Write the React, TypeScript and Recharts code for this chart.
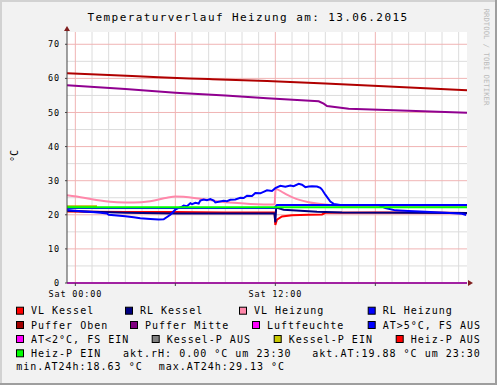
import React from 'react';
import { LineChart, Line, XAxis, YAxis, CartesianGrid, ReferenceDot } from 'recharts';

// ---- data (hours relative to Sat 00:00, values in °C) ----
const vlKesselH = [-0.5, 1, 3, 6, 9, 11.95, 12.0, 12.1, 12.4, 13, 14, 14.8, 15.0, 18, 21, 23.5];
const vlKesselV = [21.0, 20.9, 20.8, 20.8, 20.7, 20.7, 17.0, 18.6, 19.5, 19.9, 20.0, 20.1, 20.6, 20.7, 20.7, 20.5];

const rlKesselH = [-0.5, 1, 3, 6, 9, 11.95, 12.0, 12.05, 12.5, 13.5, 14.5, 16, 20, 23.5];
const rlKesselV = [21.2, 20.9, 20.6, 20.4, 20.4, 20.4, 17.8, 22.1, 21.5, 21.2, 20.9, 20.7, 20.6, 20.5];

const vlHeizungH = [-0.5, 0.5, 1.5, 2.5, 3.5, 4.5, 5.5, 6.0, 6.5, 7.5, 8.5, 9.5, 10.5, 11.95, 12.02, 12.5, 13.0, 13.5, 14.0, 14.5, 15.0, 16.0, 17.0, 23.5];
const vlHeizungV = [25.7, 25.0, 24.2, 23.7, 23.6, 24.0, 25.0, 25.4, 25.3, 24.7, 24.0, 23.5, 23.2, 23.0, 27.6, 26.4, 25.2, 24.3, 23.7, 23.3, 23.0, 22.6, 22.4, 22.3];

const rlHeizungH = [-0.5, 11.95, 12.1, 23.5];
const rlHeizungV = [22.0, 22.0, 22.9, 22.9];

const pufferObenH = [-0.5, 2, 5, 8, 11.5, 15, 18.5, 21, 23.5];
const pufferObenV = [61.5, 61.0, 60.3, 59.8, 59.2, 58.5, 57.7, 57.1, 56.5];

const pufferMitteH = [-0.5, 3, 6, 9, 11.5, 14.6, 14.9, 15.1, 16.4, 20, 23.5];
const pufferMitteV = [58.0, 56.9, 55.8, 55.0, 54.2, 53.3, 52.6, 51.9, 51.1, 50.5, 49.9];

const luftfeuchteH = [-0.5, 23.5];
const luftfeuchteV = [0, 0];

const aussenH = [-0.5, 0, 0.5, 1, 1.5, 1.9, 2.0, 2.5, 3, 3.5, 3.9, 4.5, 5.0, 5.3, 5.7, 6.0, 6.2, 6.4, 6.5, 6.7, 6.9, 7.0, 7.2, 7.4, 7.5, 7.7, 7.9, 8.1, 8.3, 8.4, 8.6, 8.9, 9.1, 9.3, 9.6, 9.9, 10.1, 10.3, 10.6, 10.8, 11.1, 11.5, 11.8, 12.0, 12.3, 12.6, 12.9, 13.1, 13.4, 13.6, 13.8, 14.0, 14.2, 14.5, 14.7, 14.8, 15.0, 15.3, 15.5, 15.9, 17, 18.2, 18.4, 18.6, 19.2, 20.0, 21.0, 22.2, 23.2, 23.45];
const aussenV = [21.4, 21.2, 21.0, 20.8, 20.6, 20.4, 20.0, 19.8, 19.6, 19.3, 19.0, 18.8, 18.6, 18.7, 20.0, 21.5, 22.0, 22.4, 22.7, 22.5, 23.4, 23.1, 23.5, 23.3, 24.2, 24.5, 24.3, 24.6, 24.2, 23.6, 23.8, 24.1, 24.0, 24.4, 24.5, 25.0, 24.9, 25.6, 25.5, 26.4, 26.3, 27.2, 27.0, 27.8, 28.5, 28.2, 28.6, 28.4, 29.1, 28.8, 28.1, 28.3, 28.4, 28.3, 27.9, 27.4, 25.9, 23.9, 23.2, 22.9, 22.9, 22.9, 22.4, 22.0, 21.3, 21.1, 20.9, 20.6, 20.3, 19.9];

const kesselPEinH = [-0.5, 1.3];
const kesselPEinV = [22.5, 22.5];

const heizPEinH = [-0.5, 23.5];
const heizPEinV = [22.2, 22.2];

const yTicks = [0, 10, 20, 30, 40, 50, 60, 70];
const yMinor = [5, 15, 25, 35, 45, 55, 65];
const xMajor = [0, 6, 12, 18];
const xMinor = [1, 2, 3, 4, 5, 7, 8, 9, 10, 11, 13, 14, 15, 16, 17, 19, 20, 21, 22, 23];
const xLabels: Record<number, string> = { 0: 'Sat 00:00', 12: 'Sat 12:00' };

const title = 'Temperaturverlauf Heizung am: 13.06.2015';
const legendRows = [
  [['VL Kessel', '#FF0000', 31], ['RL Kessel', '#000080', 140], ['VL Heizung', '#FF88AA', 254], ['RL Heizung', '#0000FF', 382.7]],
  [['Puffer Oben', '#A00000', 31], ['Puffer Mitte', '#800080', 145], ['Luftfeuchte', '#FF00FF', 267], ['AT>5°C, FS AUS', '#0000FF', 382.7]],
  [['AT<2°C, FS EIN', '#FF00FF', 31], ['Kessel-P AUS', '#808080', 166.7], ['Kessel-P EIN', '#C8C800', 288.7], ['Heiz-P AUS', '#FF0000', 410.7]],
  [['Heiz-P EIN', '#00FF00', 31]],
];
const legendRowY = [310.7, 325, 339, 353.3, 366.7];
const infoTexts: [string, number, number][] = [
  ['akt.rH: 0.00 °C um 23:30', 123, 3],
  ['akt.AT:19.88 °C um 23:30', 312.3, 3],
  ['min.AT24h:18.63 °C', 16.3, 4],
  ['max.AT24h:29.13 °C', 158.7, 4],
];

const mk = (h: number[], v: number[]) => h.map((x, i) => ({ h: x, v: v[i] }));

const series = [
  { key: 'vlk', color: '#FF0000', data: mk(vlKesselH, vlKesselV), type: 'linear' },
  { key: 'rlk', color: '#000080', data: mk(rlKesselH, rlKesselV), type: 'linear' },
  { key: 'vlh', color: '#FF88AA', data: mk(vlHeizungH, vlHeizungV), type: 'monotone' },
  { key: 'rlh', color: '#0000FF', data: mk(rlHeizungH, rlHeizungV), type: 'linear' },
  { key: 'po', color: '#B00000', data: mk(pufferObenH, pufferObenV), type: 'monotone' },
  { key: 'pm', color: '#900090', data: mk(pufferMitteH, pufferMitteV), type: 'linear' },
  { key: 'lf', color: '#FF00FF', data: mk(luftfeuchteH, luftfeuchteV), type: 'linear' },
  { key: 'at', color: '#0000FF', data: mk(aussenH, aussenV), type: 'linear' },
  { key: 'kpe', color: '#B4B400', data: mk(kesselPEinH, kesselPEinV), type: 'linear' },
  { key: 'hpe', color: '#00FF00', data: mk(heizPEinH, heizPEinV), type: 'linear' },
];

const FONT = '"DejaVu Sans Mono", monospace';
const ARROW = '#801F1F';

const UpArrow = (p: any) => (
  <g>
    <line x1={p.cx} y1={p.cy} x2={p.cx} y2={p.cy - 4} stroke="#333" strokeWidth={1} />
    <polygon points={`${p.cx - 3},${p.cy - 1} ${p.cx + 3},${p.cy - 1} ${p.cx},${p.cy - 6}`} fill={ARROW} />
  </g>
);
const RightArrow = (p: any) => (
  <polygon points={`${p.cx + 1},${p.cy - 3} ${p.cx + 1},${p.cy + 3} ${p.cx + 6},${p.cy}`} fill={ARROW} />
);

export default function App() {
  return (
    <div style={{ position: 'absolute', left: 0, top: 0, width: 497, height: 385, background: '#F2F2F2' }}>
      <LineChart width={497} height={385} margin={{ top: 32, right: 30, bottom: 82, left: 27 }}>
        <CartesianGrid
          fill="#FFFFFF"
          stroke="#DCDCDC"
          strokeWidth={1}
          horizontalValues={yMinor}
          verticalValues={xMinor}
        />
        <CartesianGrid
          stroke="#F0B4B4"
          strokeWidth={1}
          horizontalValues={yTicks}
          verticalValues={xMajor}
        />
        <XAxis
          type="number"
          dataKey="h"
          domain={[-0.5, 23.5]}
          ticks={xMajor}
          interval={0}
          height={20}
          tickSize={3}
          tickMargin={5}
          tickFormatter={(v: number) => xLabels[v] ?? ''}
          axisLine={{ stroke: '#444' }}
          tickLine={{ stroke: '#444' }}
          tick={{ fontFamily: FONT, fontSize: 8.5, fill: '#000', letterSpacing: 0.85 } as any}
        />
        <YAxis
          type="number"
          domain={[0, 73.6]}
          ticks={yTicks}
          interval={0}
          width={40}
          tickSize={2}
          tickMargin={5}
          axisLine={{ stroke: '#444' }}
          tickLine={{ stroke: '#444' }}
          tick={{ fontFamily: FONT, fontSize: 8.5, fill: '#000', letterSpacing: 0.85 } as any}
        />
        {series.map((s) => (
          <Line
            key={s.key}
            data={s.data}
            dataKey="v"
            type={s.type as any}
            stroke={s.color}
            strokeWidth={2}
            dot={false}
            activeDot={false}
            isAnimationActive={false}
          />
        ))}
        <ReferenceDot x={-0.5} y={73.6} r={0} ifOverflow="visible" shape={UpArrow} />
        <ReferenceDot x={23.5} y={0} r={0} ifOverflow="visible" shape={RightArrow} />
      </LineChart>
      <svg
        width={497}
        height={385}
        style={{ position: 'absolute', left: 0, top: 0, pointerEvents: 'none' }}
      >
        <rect x={0} y={0} width={497} height={2} fill="#D2D2D2" />
        <rect x={0} y={0} width={2} height={385} fill="#D2D2D2" />
        <rect x={495} y={0} width={2} height={385} fill="#9E9E9E" />
        <rect x={0} y={383} width={497} height={2} fill="#9E9E9E" />
        <text
          x={248}
          y={17}
          textAnchor="middle"
          dominantBaseline="central"
          style={{ fontFamily: FONT, fontSize: 11, letterSpacing: 1.4 }}
          fill="#000"
        >
          {title}
        </text>
        <text
          transform="translate(486,57) rotate(90)"
          textAnchor="middle"
          dominantBaseline="central"
          style={{ fontFamily: FONT, fontSize: 7.3 }}
          fill="#BBBBBB"
        >
          RRDTOOL / TOBI OETIKER
        </text>
        <text
          transform="translate(14,156) rotate(-90)"
          textAnchor="middle"
          dominantBaseline="central"
          style={{ fontFamily: FONT, fontSize: 10 }}
          fill="#000"
        >
          °C
        </text>
        {legendRows.map((row, ri) =>
          row.map(([label, color, tx]) => (
            <g key={`${ri}-${label}`}>
              <rect
                x={(tx as number) - 14.5}
                y={legendRowY[ri] - 3.5}
                width={7}
                height={7}
                fill={color as string}
                stroke="#000"
                strokeWidth={1}
              />
              <text
                x={tx as number}
                y={legendRowY[ri]}
                dominantBaseline="central"
                style={{ fontFamily: FONT, fontSize: 10, letterSpacing: 1 }}
                fill="#000"
              >
                {label as string}
              </text>
            </g>
          ))
        )}
        {infoTexts.map(([t, x, r]) => (
          <text
            key={t}
            x={x}
            y={legendRowY[r]}
            dominantBaseline="central"
            style={{ fontFamily: FONT, fontSize: 10, letterSpacing: 1 }}
            fill="#000"
          >
            {t}
          </text>
        ))}
      </svg>
    </div>
  );
}
